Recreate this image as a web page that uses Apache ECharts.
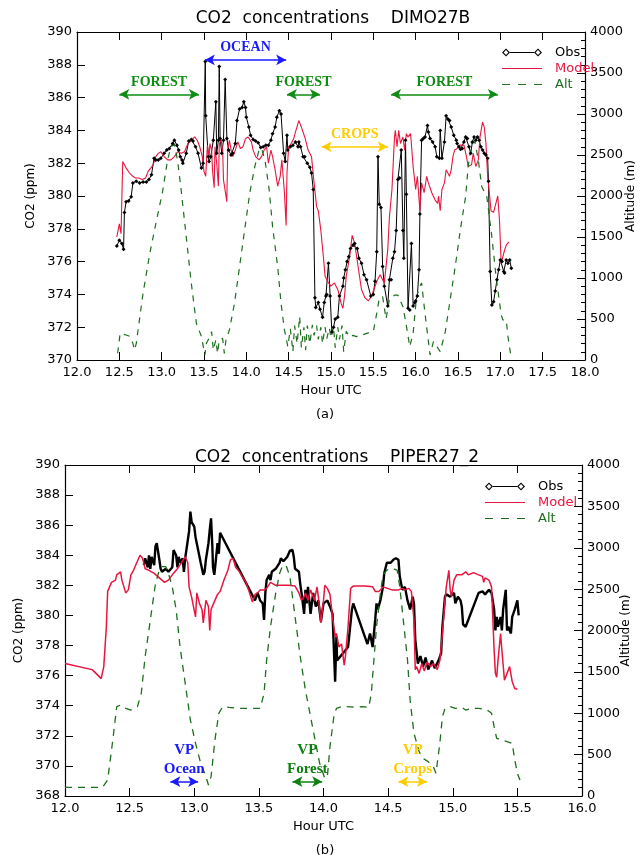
<!DOCTYPE html>
<html>
<head>
<meta charset="utf-8">
<title>CO2 concentrations</title>
<script src="https://cdn.jsdelivr.net/npm/echarts@6/dist/echarts.min.js"></script>
<style>
html,body{margin:0;padding:0;background:#fff;}
#main{width:640px;height:856px;}
</style>
</head>
<body>
<div id="main"></div>
<script>
// ---- panel (a) DIMO27B : [hour UTC, value] ----
var obsA = [[12.47,376.95],[12.50,377.3],[12.53,377.1],[12.55,376.75],[12.56,379.0],[12.58,379.65],[12.61,379.7],[12.64,379.96],[12.66,380.8],[12.70,380.9],[12.74,380.8],[12.78,380.85],[12.82,380.85],[12.85,381.0],[12.88,381.3],[12.91,382.3],[12.93,382.2],[12.96,382.2],[12.99,382.3],[13.03,382.6],[13.06,382.8],[13.09,382.9],[13.13,383.2],[13.15,383.4],[13.18,383.1],[13.20,382.8],[13.22,382.4],[13.24,382.2],[13.25,382.0],[13.29,382.6],[13.32,383.35],[13.35,383.45],[13.37,383.35],[13.40,383.0],[13.43,382.6],[13.47,381.7],[13.49,382.0],[13.515,388.2],[13.52,384.9],[13.55,382.4],[13.56,382.1],[13.58,382.4],[13.61,383.4],[13.64,385.75],[13.65,382.6],[13.67,383.4],[13.68,387.9],[13.69,383.5],[13.71,382.6],[13.73,383.4],[13.75,387.1],[13.77,383.5],[13.79,382.8],[13.82,382.5],[13.84,382.6],[13.87,383.2],[13.89,384.6],[13.92,385.3],[13.95,385.4],[13.97,385.75],[13.99,385.4],[14.00,384.8],[14.03,384.2],[14.05,383.7],[14.08,383.45],[14.11,383.35],[14.14,383.25],[14.17,382.95],[14.20,383.0],[14.23,383.1],[14.26,383.1],[14.29,383.4],[14.31,383.8],[14.34,384.2],[14.36,384.8],[14.39,385.2],[14.41,385.0],[14.44,382.6],[14.46,382.1],[14.48,383.7],[14.49,382.8],[14.52,383.0],[14.55,383.1],[14.58,383.3],[14.61,383.0],[14.62,383.3],[14.64,383.0],[14.67,382.4],[14.69,382.4],[14.72,382.0],[14.75,381.75],[14.77,381.4],[14.79,380.4],[14.81,373.8],[14.82,373.2],[14.85,373.5],[14.87,373.1],[14.90,372.6],[14.92,373.5],[14.94,373.9],[14.95,374.0],[14.97,375.9],[14.99,373.9],[15.01,371.7],[15.03,372.0],[15.05,372.5],[15.08,372.6],[15.10,373.9],[15.14,374.5],[15.15,375.0],[15.17,375.5],[15.19,376.0],[15.21,376.3],[15.23,376.8],[15.26,377.0],[15.28,377.1],[15.31,376.8],[15.33,376.2],[15.36,375.9],[15.39,375.2],[15.42,374.9],[15.47,373.9],[15.50,374.0],[15.52,374.8],[15.54,376.6],[15.555,382.4],[15.57,379.5],[15.59,379.3],[15.61,375.7],[15.63,374.5],[15.67,373.3],[15.69,374.9],[15.71,374.9],[15.73,376.2],[15.75,376.6],[15.77,377.9],[15.79,381.0],[15.81,381.1],[15.83,382.8],[15.85,377.9],[15.86,376.2],[15.88,383.4],[15.89,380.1],[15.91,373.15],[15.93,373.05],[15.95,377.1],[15.97,373.3],[15.99,373.5],[16.00,373.6],[16.02,373.9],[16.04,375.5],[16.05,378.9],[16.07,383.4],[16.09,383.5],[16.11,383.6],[16.14,384.3],[16.15,383.9],[16.17,383.5],[16.20,383.3],[16.23,383.0],[16.25,382.4],[16.28,382.3],[16.29,384.0],[16.31,382.3],[16.34,383.3],[16.36,384.9],[16.38,384.7],[16.40,384.6],[16.42,384.2],[16.45,383.7],[16.48,383.4],[16.49,383.2],[16.51,383.0],[16.53,382.85],[16.55,382.9],[16.57,383.3],[16.59,383.6],[16.61,383.5],[16.63,383.0],[16.65,382.6],[16.67,383.3],[16.69,383.6],[16.71,383.4],[16.73,383.6],[16.75,383.4],[16.77,383.0],[16.79,382.8],[16.81,382.6],[16.83,382.5],[16.85,382.3],[16.86,380.9],[16.88,375.4],[16.90,373.35],[16.92,373.55],[16.94,374.2],[16.96,374.9],[16.98,375.5],[17.00,376.1],[17.02,376.0],[17.04,375.4],[17.05,375.3],[17.07,376.1],[17.09,375.9],[17.11,376.1],[17.13,375.6]];

var modelA = [[12.47,377.5],[12.50,378.3],[12.52,377.7],[12.54,382.1],[12.56,381.9],[12.58,381.7],[12.60,381.8],[12.62,381.4],[12.64,381.5],[12.66,381.2],[12.69,381.1],[12.73,381.1],[12.77,381.0],[12.81,381.1],[12.84,381.5],[12.86,381.4],[12.90,381.9],[12.93,382.4],[12.96,382.6],[12.99,382.7],[13.03,382.4],[13.07,382.2],[13.11,382.2],[13.15,382.4],[13.19,382.7],[13.23,382.6],[13.27,382.7],[13.31,383.2],[13.35,383.4],[13.39,383.6],[13.42,383.4],[13.45,383.0],[13.48,382.4],[13.50,381.5],[13.52,381.2],[13.54,383.1],[13.56,382.4],[13.57,383.2],[13.59,382.8],[13.60,381.6],[13.62,380.5],[13.63,383.0],[13.65,382.0],[13.67,380.6],[13.68,383.1],[13.70,383.5],[13.72,382.8],[13.73,381.0],[13.77,379.65],[13.78,382.8],[13.80,383.4],[13.82,382.8],[13.84,382.4],[13.87,382.8],[13.90,383.3],[13.93,382.9],[13.96,383.0],[13.99,383.5],[14.02,383.6],[14.06,383.3],[14.08,382.8],[14.11,382.4],[14.15,382.2],[14.18,382.4],[14.21,382.8],[14.24,383.0],[14.26,382.0],[14.29,382.8],[14.31,382.4],[14.34,381.6],[14.37,380.6],[14.40,381.2],[14.42,382.2],[14.45,380.2],[14.47,378.2],[14.48,381.4],[14.50,383.0],[14.53,383.2],[14.56,383.5],[14.58,383.9],[14.62,384.6],[14.65,384.2],[14.69,383.6],[14.73,382.8],[14.77,382.4],[14.80,380.8],[14.83,379.35],[14.85,379.1],[14.88,377.9],[14.91,376.3],[14.93,375.1],[14.97,374.7],[15.00,374.5],[15.04,374.7],[15.08,374.3],[15.12,373.45],[15.14,373.15],[15.16,373.9],[15.18,375.1],[15.22,376.3],[15.25,377.6],[15.28,377.1],[15.32,375.7],[15.36,374.3],[15.40,373.8],[15.44,373.6],[15.48,373.9],[15.52,374.5],[15.55,374.9],[15.58,375.2],[15.61,374.9],[15.63,374.7],[15.67,376.7],[15.69,378.7],[15.72,380.4],[15.75,383.6],[15.76,384.0],[15.78,383.0],[15.80,384.0],[15.82,383.2],[15.85,383.6],[15.87,382.8],[15.89,383.8],[15.91,383.6],[15.94,383.8],[15.97,381.8],[16.00,380.4],[16.02,381.2],[16.05,379.1],[16.07,380.8],[16.10,380.2],[16.13,381.2],[16.15,380.8],[16.19,380.2],[16.23,379.75],[16.26,379.55],[16.27,380.0],[16.29,379.1],[16.31,380.4],[16.34,380.8],[16.36,381.6],[16.38,381.4],[16.40,381.2],[16.42,381.6],[16.44,382.4],[16.46,382.8],[16.49,382.9],[16.52,383.1],[16.54,383.0],[16.57,383.1],[16.60,382.4],[16.62,381.8],[16.66,381.9],[16.68,382.6],[16.71,381.8],[16.74,382.2],[16.76,383.6],[16.79,384.5],[16.81,384.2],[16.83,383.2],[16.85,381.2],[16.87,380.2],[16.89,379.1],[16.92,379.0],[16.94,379.4],[16.97,380.0],[16.99,378.5],[17.01,375.9],[17.05,376.7],[17.07,377.0],[17.10,377.2]];

var altA = [[12.48,82],[12.51,326],[12.58,305],[12.63,285],[12.66,203],[12.68,122],[12.70,203],[12.78,814],[12.86,1301],[12.94,1708],[13.01,2050],[13.07,2440],[13.11,2603],[13.15,2630],[13.19,2420],[13.23,2074],[13.29,1505],[13.35,935],[13.41,447],[13.47,285],[13.51,61],[13.53,208],[13.57,285],[13.59,346],[13.61,122],[13.64,244],[13.66,81],[13.68,244],[13.72,264],[13.74,81],[13.76,244],[13.80,366],[13.86,691],[13.92,1139],[13.98,1586],[14.04,2033],[14.10,2358],[14.15,2562],[14.18,2582],[14.22,2440],[14.27,2074],[14.31,1627],[14.37,1139],[14.41,691],[14.45,366],[14.49,163],[14.52,380],[14.55,100],[14.57,420],[14.60,200],[14.63,530],[14.65,150],[14.68,400],[14.70,120],[14.72,420],[14.75,200],[14.78,430],[14.80,300],[14.83,420],[14.85,250],[14.88,400],[14.90,200],[14.93,400],[14.95,260],[14.98,390],[15.00,270],[15.03,400],[15.05,150],[15.08,400],[15.10,250],[15.13,420],[15.15,100],[15.18,350],[15.22,280],[15.26,300],[15.30,285],[15.34,305],[15.38,310],[15.44,330],[15.50,346],[15.54,569],[15.57,752],[15.61,773],[15.65,500],[15.69,740],[15.75,790],[15.79,793],[15.85,650],[15.89,420],[15.93,163],[15.97,325],[16.01,773],[16.05,900],[16.07,940],[16.11,570],[16.17,61],[16.21,224],[16.29,102],[16.35,346],[16.41,752],[16.47,1159],[16.53,1606],[16.59,1993],[16.62,2358],[16.66,2637],[16.70,2660],[16.74,2440],[16.78,2115],[16.84,1993],[16.90,1500],[16.95,1013],[17.01,553],[17.03,488],[17.07,488],[17.09,285],[17.12,81]];

// ---- panel (b) PIPER27_2 ----
var obsB = [[12.61,383.35],[12.62,383.8],[12.64,383.2],[12.65,384.0],[12.66,383.1],[12.67,383.9],[12.69,383.35],[12.70,384.6],[12.71,384.8],[12.73,383.7],[12.74,383.1],[12.75,382.9],[12.78,383.1],[12.80,382.9],[12.83,383.2],[12.84,384.35],[12.86,384.0],[12.87,383.2],[12.88,383.9],[12.89,383.5],[12.91,383.8],[12.92,382.9],[12.93,383.8],[12.95,385.0],[12.96,385.6],[12.97,386.9],[12.98,386.2],[13.00,385.9],[13.01,385.2],[13.03,384.35],[13.05,383.5],[13.07,382.7],[13.08,382.9],[13.09,383.7],[13.11,384.8],[13.12,385.7],[13.13,386.45],[13.14,384.6],[13.145,383.2],[13.155,382.7],[13.165,383.5],[13.18,384.8],[13.19,384.1],[13.20,385.5],[13.47,381.0],[13.49,381.5],[13.51,381.0],[13.53,380.8],[13.54,379.7],[13.55,381.5],[13.56,382.35],[13.58,382.7],[13.59,382.35],[13.60,382.9],[13.63,383.1],[13.66,383.5],[13.67,383.8],[13.69,383.6],[13.72,383.9],[13.74,384.3],[13.76,384.35],[13.77,383.9],[13.78,383.1],[13.81,382.9],[13.82,382.1],[13.83,381.5],[13.85,380.1],[13.86,381.7],[13.87,380.8],[13.88,381.9],[13.90,380.1],[13.92,381.5],[13.94,380.6],[13.96,381.0],[13.98,379.6],[14.00,380.8],[14.03,381.0],[14.05,380.6],[14.07,380.1],[14.09,375.6],[14.10,378.6],[14.105,377.0],[14.19,377.9],[14.22,380.4],[14.23,380.8],[14.34,378.1],[14.36,378.8],[14.38,377.9],[14.40,379.7],[14.41,380.8],[14.42,380.4],[14.44,381.0],[14.46,381.9],[14.47,382.8],[14.49,383.5],[14.50,383.6],[14.52,383.5],[14.54,383.7],[14.56,383.8],[14.58,383.7],[14.59,382.6],[14.61,381.7],[14.63,381.9],[14.65,381.0],[14.67,380.4],[14.69,381.25],[14.70,380.8],[14.71,378.4],[14.73,376.8],[14.75,377.3],[14.77,376.6],[14.79,377.2],[14.81,376.4],[14.84,377.0],[14.86,376.5],[14.89,377.0],[14.91,377.5],[14.92,379.25],[14.94,381.25],[14.95,381.4],[14.98,381.25],[15.01,381.5],[15.02,380.8],[15.04,381.25],[15.06,381.0],[15.07,380.6],[15.08,379.4],[15.10,379.25],[15.20,381.5],[15.23,381.6],[15.25,381.4],[15.28,381.7],[15.30,381.5],[15.32,380.4],[15.33,379.0],[15.34,379.9],[15.35,379.25],[15.37,379.9],[15.38,379.0],[15.39,380.4],[15.41,381.7],[15.42,379.0],[15.43,379.25],[15.45,378.8],[15.46,379.9],[15.48,380.4],[15.50,381.0],[15.51,380.0]];

var modelB = [[12.00,376.8],[12.21,376.4],[12.24,376.15],[12.28,375.8],[12.30,376.6],[12.32,379.25],[12.33,381.6],[12.36,382.2],[12.39,382.35],[12.40,382.7],[12.43,382.9],[12.44,382.35],[12.47,381.5],[12.49,381.7],[12.51,382.7],[12.53,383.0],[12.56,383.6],[12.58,384.0],[12.60,383.8],[12.62,383.1],[12.65,383.0],[12.69,382.8],[12.73,382.5],[12.77,382.2],[12.80,382.35],[12.83,382.7],[12.87,383.1],[12.90,383.5],[12.93,383.9],[12.95,383.5],[12.96,381.9],[12.98,381.2],[13.01,379.9],[13.02,381.5],[13.04,380.8],[13.06,380.4],[13.07,379.5],[13.09,381.0],[13.11,380.6],[13.12,379.0],[13.13,380.4],[13.15,380.8],[13.18,381.4],[13.20,381.6],[13.23,382.35],[13.26,383.0],[13.28,383.7],[13.30,383.8],[13.32,383.2],[13.35,382.9],[13.37,382.6],[13.40,382.2],[13.42,381.7],[13.45,380.9],[13.47,381.4],[13.49,381.5],[13.51,381.7],[13.54,381.7],[13.56,381.8],[13.59,382.2],[13.63,382.0],[13.68,382.0],[13.73,382.0],[13.78,381.95],[13.81,381.5],[13.83,381.0],[13.85,381.25],[13.86,381.5],[13.88,381.0],[13.90,381.7],[13.93,381.0],[13.95,381.9],[13.96,381.25],[13.98,379.5],[14.00,381.0],[14.01,382.0],[14.03,381.8],[14.05,381.4],[14.07,379.9],[14.09,378.6],[14.10,378.8],[14.12,377.9],[14.14,378.1],[14.16,376.7],[14.17,377.3],[14.19,379.25],[14.21,381.8],[14.23,381.95],[14.27,381.95],[14.32,381.95],[14.38,381.9],[14.40,381.6],[14.43,381.6],[14.46,381.9],[14.53,381.7],[14.58,381.7],[14.61,381.8],[14.63,381.7],[14.66,381.8],[14.68,381.6],[14.70,379.7],[14.71,376.4],[14.72,376.6],[14.74,376.15],[14.76,376.8],[14.78,376.3],[14.80,376.9],[14.83,376.6],[14.85,376.8],[14.88,376.4],[14.90,377.0],[14.92,378.8],[14.94,381.0],[14.95,381.9],[14.97,383.0],[14.98,381.7],[14.99,381.25],[15.01,382.35],[15.03,382.7],[15.07,382.7],[15.10,382.9],[15.12,382.7],[15.16,382.85],[15.20,382.7],[15.23,382.6],[15.24,382.2],[15.25,382.5],[15.28,382.35],[15.30,381.9],[15.32,377.7],[15.33,376.15],[15.34,375.9],[15.35,377.0],[15.37,378.8],[15.38,377.7],[15.40,375.7],[15.42,376.15],[15.44,376.6],[15.46,375.6],[15.48,375.15],[15.50,375.1]];

var altB = [[12.00,105],[12.29,105],[12.33,193],[12.37,677],[12.40,1079],[12.43,1099],[12.47,1059],[12.51,1039],[12.56,1079],[12.59,1240],[12.62,1683],[12.66,2126],[12.70,2569],[12.73,2730],[12.75,2771],[12.78,2771],[12.80,2690],[12.83,2529],[12.86,2247],[12.89,1804],[12.93,1361],[12.97,918],[13.01,636],[13.05,395],[13.09,234],[13.11,133],[13.13,234],[13.16,677],[13.19,999],[13.22,1079],[13.27,1071],[13.35,1059],[13.42,1059],[13.51,1059],[13.54,1240],[13.56,1643],[13.59,2046],[13.63,2448],[13.66,2690],[13.68,2771],[13.71,2791],[13.74,2650],[13.78,2167],[13.82,1683],[13.86,1281],[13.90,958],[13.94,636],[13.97,395],[14.01,213],[14.03,234],[14.05,596],[14.08,958],[14.10,1059],[14.14,1079],[14.18,1079],[14.25,1071],[14.30,1079],[14.35,1071],[14.37,1240],[14.39,1643],[14.41,2046],[14.44,2448],[14.46,2670],[14.49,2730],[14.53,2750],[14.57,2730],[14.59,2529],[14.62,2086],[14.65,1643],[14.67,1160],[14.70,757],[14.74,536],[14.77,455],[14.81,415],[14.85,354],[14.87,274],[14.90,636],[14.92,958],[14.94,1059],[14.98,1079],[15.02,1059],[15.07,1071],[15.10,1039],[15.15,1059],[15.20,1059],[15.26,1047],[15.30,999],[15.32,838],[15.34,697],[15.38,677],[15.42,657],[15.46,636],[15.48,435],[15.50,274],[15.52,193]];

// surface-type labels: text, hour span, co2 level
var annotA = [
  {text:'FOREST', from:12.50, to:13.44, at:386.2, color:'#0f8c12'},
  {text:'OCEAN',  from:13.51, to:14.47, at:388.3, color:'#1a1aff'},
  {text:'FOREST', from:14.48, to:14.87, at:386.2, color:'#0f8c12'},
  {text:'CROPS',  from:14.89, to:15.67, at:383.0, color:'#ffcc00'},
  {text:'FOREST', from:15.71, to:16.97, at:386.2, color:'#0f8c12'}
];
var annotB = [
  {text:'VP\nOcean',  from:12.815, to:13.03, at:368.95, color:'#1a1aff'},
  {text:'VP\nForest', from:13.76,  to:13.99, at:368.95, color:'#0f7f10'},
  {text:'VP\nCrops',  from:14.58,  to:14.80, at:368.95, color:'#ffcc00'}
];

var RED = '#e8153f';
var GREEN = '#1d6e1d';
var FONT = 'DejaVu Sans';

var myChart = echarts.init(document.getElementById('main'));

function arrows(list, fontSize) {
  return {
    silent: true,
    symbol: ['arrow', 'arrow'],
    symbolSize: [8, 10],
    animation: false,
    data: list.map(function (a) {
      return [
        {coord: [a.from, a.at], lineStyle: {color: a.color, width: 1.5, type: 'solid'}, itemStyle: {color: a.color},
         label: {show: true, position: 'insideMiddleTop', distance: 3, formatter: a.text, color: a.color,
                 fontFamily: 'Liberation Serif', fontWeight: 'bold', fontSize: fontSize, lineHeight: fontSize + 4, align: 'center'}},
        {coord: [a.to, a.at]}
      ];
    })
  };
}

// legend keys drawn IDL-style
var obsIcon = 'path://M0,5L4,1L8,5L4,9Z M1.6,5L4,7.4L6.4,5L4,2.6Z M8,4.4L32,4.4L32,5.6L8,5.6Z M32,5L36,1L40,5L36,9Z M33.6,5L36,7.4L38.4,5L36,2.6Z';
var modelIcon = 'path://M0,4.4L40,4.4L40,5.6L0,5.6Z';
var altIcon = 'path://M0,4.4L8,4.4L8,5.6L0,5.6Z M16,4.4L24,4.4L24,5.6L16,5.6Z M32,4.4L40,4.4L40,5.6L32,5.6Z';

function legendAt(left, top) {
  return {
    orient: 'vertical', left: left, top: top, itemWidth: 40, itemHeight: 10, itemGap: 3,
    selectedMode: false,
    textStyle: {fontFamily: FONT, fontSize: 13, padding: [0, 0, 0, 8]},
    data: [
      {name: 'Obs', icon: obsIcon, itemStyle: {color: '#000'}, textStyle: {color: '#000'}},
      {name: 'Model', icon: modelIcon, itemStyle: {color: RED}, textStyle: {color: RED}},
      {name: 'Alt', icon: altIcon, itemStyle: {color: GREEN}, textStyle: {color: GREEN}}
    ]
  };
}

function xAx(grid, max, top) {
  return {
    type: 'value', gridIndex: grid, min: 12, max: max, interval: 0.5,
    position: top ? 'top' : 'bottom',
    name: top ? '' : 'Hour UTC', nameLocation: 'middle', nameGap: 24, nameMoveOverlap: false,
    nameTextStyle: {fontFamily: FONT, fontSize: 13, color: '#000'},
    axisLine: {show: true, lineStyle: {color: '#000', width: 1.2}},
    axisTick: {show: true, inside: true, length: 8, lineStyle: {color: '#000'}},
    axisLabel: {show: !top, margin: 6, fontFamily: FONT, fontSize: 13, color: '#000',
                formatter: function (v) { return v.toFixed(1); }},
    splitLine: {show: false}
  };
}

function yCo2(grid, min) {
  return {
    type: 'value', gridIndex: grid, min: min, max: 390, interval: 2, position: 'left',
    name: 'CO2 (ppm)', nameLocation: 'middle', nameGap: 40, nameRotate: 90, nameMoveOverlap: false,
    nameTextStyle: {fontFamily: FONT, fontSize: 12, color: '#000'},
    axisLine: {show: true, lineStyle: {color: '#000', width: 1.2}},
    axisTick: {show: true, inside: true, length: 8, lineStyle: {color: '#000'}},
    axisLabel: {margin: 5, fontFamily: FONT, fontSize: 13, color: '#000'},
    splitLine: {show: false}
  };
}

function yAlt(grid, gap) {
  return {
    type: 'value', gridIndex: grid, min: 0, max: 4000, interval: 500, position: 'right',
    name: 'Altitude (m)', nameLocation: 'middle', nameGap: gap, nameRotate: 90, nameMoveOverlap: false,
    nameTextStyle: {fontFamily: FONT, fontSize: 12, color: '#000'},
    axisLine: {show: true, lineStyle: {color: '#000', width: 1.2}},
    axisTick: {show: true, inside: true, length: 8, lineStyle: {color: '#000'}},
    minorTick: {show: true, splitNumber: 5, length: 4, lineStyle: {color: '#000'}},
    axisLabel: {margin: 5, fontFamily: FONT, fontSize: 13, color: '#000',
                formatter: function (v) { return String(v); }},
    splitLine: {show: false}
  };
}

var option = {
  backgroundColor: '#fff',
  animation: false,
  title: [
    {text: 'CO2  concentrations    DIMO27B', left: 328, top: 5, textAlign: 'center',
     textStyle: {fontFamily: FONT, fontSize: 17, fontWeight: 'normal', color: '#000'}},
    {text: '(a)', left: 320, top: 403, textAlign: 'center',
     textStyle: {fontFamily: FONT, fontSize: 13, fontWeight: 'normal', color: '#000'}},
    {text: 'CO2  concentrations    PIPER27_2', left: 332, top: 444, textAlign: 'center',
     textStyle: {fontFamily: FONT, fontSize: 17, fontWeight: 'normal', color: '#000'}},
    {text: '(b)', left: 320, top: 839, textAlign: 'center',
     textStyle: {fontFamily: FONT, fontSize: 13, fontWeight: 'normal', color: '#000'}}
  ],
  legend: [legendAt(497, 41), legendAt(480, 475)],
  grid: [
    {left: 77, top: 32, width: 508, height: 328, outerBoundsMode: 'none', containLabel: false},
    {left: 65, top: 465, width: 517, height: 331, outerBoundsMode: 'none', containLabel: false}
  ],
  xAxis: [xAx(0, 18, false), xAx(0, 18, true), xAx(1, 16, false), xAx(1, 16, true)],
  yAxis: [yCo2(0, 370), yAlt(0, 40), yCo2(1, 368), yAlt(1, 38)],
  series: [
    {name: 'Obs', type: 'line', xAxisIndex: 0, yAxisIndex: 0, data: obsA,
     symbol: 'diamond', symbolSize: 4, showSymbol: true,
     lineStyle: {color: '#000', width: 1}, itemStyle: {color: '#000'}},
    {name: 'Model', type: 'line', xAxisIndex: 0, yAxisIndex: 0, data: modelA, symbol: 'none',
     lineStyle: {color: RED, width: 1.1}, itemStyle: {color: RED},
     markLine: arrows(annotA, 14)},
    {name: 'Alt', type: 'line', xAxisIndex: 0, yAxisIndex: 1, data: altA, symbol: 'none',
     lineStyle: {color: GREEN, width: 1.2, type: [6, 6]}, itemStyle: {color: GREEN}},

    {name: 'Obs', type: 'line', xAxisIndex: 2, yAxisIndex: 2, data: obsB, symbol: 'none',
     lineStyle: {color: '#000', width: 2.4}, itemStyle: {color: '#000'}},
    {name: 'Model', type: 'line', xAxisIndex: 2, yAxisIndex: 2, data: modelB, symbol: 'none',
     lineStyle: {color: RED, width: 1.5}, itemStyle: {color: RED},
     markLine: arrows(annotB, 15)},
    {name: 'Alt', type: 'line', xAxisIndex: 2, yAxisIndex: 3, data: altB, symbol: 'none',
     lineStyle: {color: GREEN, width: 1.3, type: [7, 6]}, itemStyle: {color: GREEN}}
  ]
};

myChart.setOption(option);
</script>
</body>
</html>
